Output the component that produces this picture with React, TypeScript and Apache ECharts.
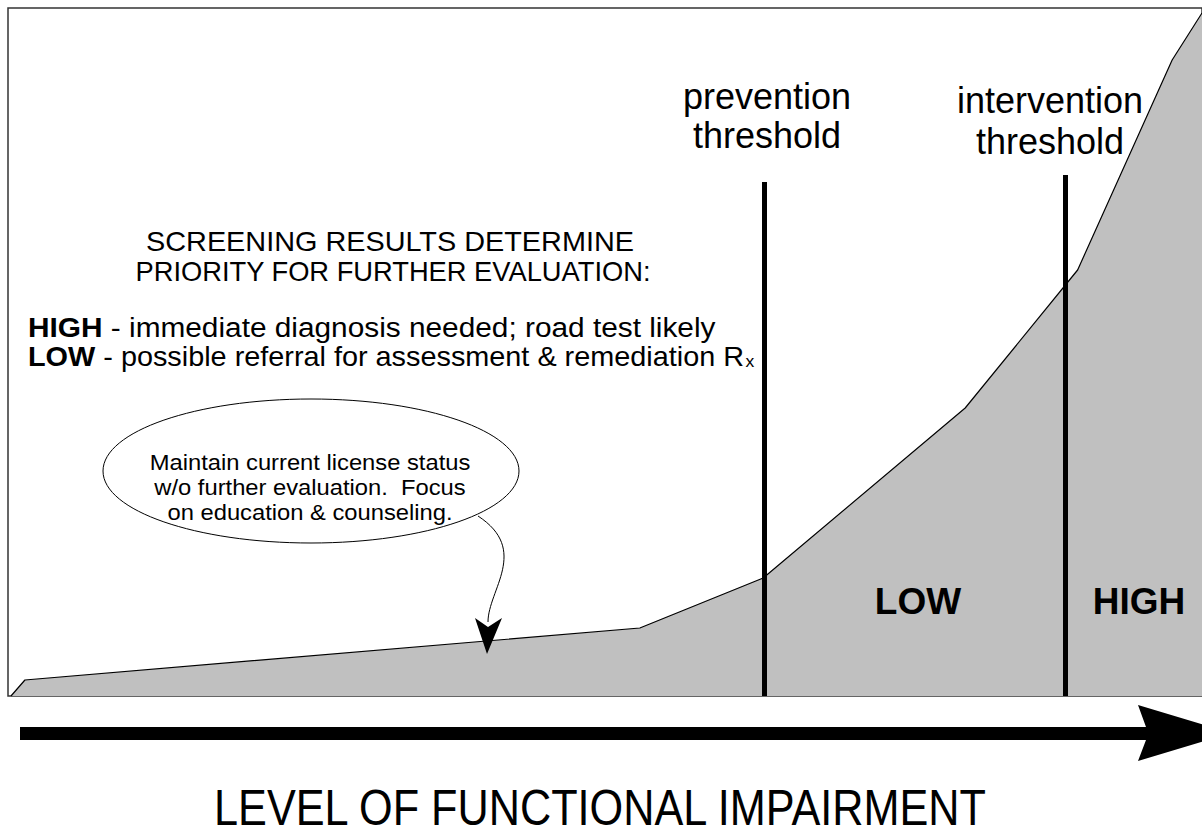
import React, { useEffect, useRef } from "react";
import * as echarts from "echarts";

// ---- data ----
// impairment level (x) and relative risk (y) of the shaded profile
const impairment = [3, 17, 635, 759, 962, 1075, 1170, 1200];
const risk = [0, 16, 68, 118, 288, 426, 636, 683];
// threshold markers
const thresholdLevels = [760, 1063];
const thresholdTops = [514, 521];
const preventionLabel = ["prevention", "threshold"];
const interventionLabel = ["intervention", "threshold"];
const priorityLabels = ["LOW", "HIGH"];
const screeningLines = ["SCREENING RESULTS DETERMINE", "PRIORITY FOR FURTHER EVALUATION:"];
const highText = "immediate diagnosis needed; road test likely";
const lowText = "possible referral for assessment & remediation R";
const bubbleLines = [
  "Maintain current license status",
  "w/o further evaluation.  Focus",
  "on education & counseling.",
];
const axisTitle = "LEVEL OF FUNCTIONAL IMPAIRMENT";

const FONT = '"Liberation Sans", Arial, Helvetica, sans-serif';

export default function App() {
  const ref = useRef<HTMLDivElement>(null);

  useEffect(() => {
    document.body.style.margin = "0";
    if (!ref.current) return;
    const chart = echarts.init(ref.current, undefined, { renderer: "svg" });

    const txt = (
      text: string,
      x: number,
      y: number,
      size: number,
      opts: any = {}
    ) => ({
      type: "text",
      x,
      y,
      z: 100,
      scaleX: opts.scaleX ?? 1,
      style: {
        text,
        fill: "#000",
        fontSize: size,
        fontFamily: FONT,
        fontWeight: opts.bold ? "bold" : "normal",
        align: opts.align ?? "center",
        verticalAlign: "middle",
      },
    });

    const rich = {
      b: { fontSize: 28, fontFamily: FONT, fontWeight: "bold", fill: "#000" },
      r: { fontSize: 28, fontFamily: FONT, fontWeight: "normal", fill: "#000" },
      sub: {
        fontSize: 17,
        fontFamily: FONT,
        fill: "#000",
        verticalAlign: "bottom",
        padding: [0, 0, 0, 1],
      },
    };

    const richLine = (text: string, y: number, scaleX: number) => ({
      type: "text",
      x: 28,
      y,
      z: 100,
      scaleX,
      style: {
        text,
        rich,
        fontSize: 28,
        fontFamily: FONT,
        fill: "#000",
        align: "left",
        verticalAlign: "middle",
      },
    });

    const graphic: any[] = [
      // big axis arrow
      {
        type: "polygon",
        z: 100,
        shape: {
          points: [
            [20, 727],
            [1146, 727],
            [1138, 705],
            [1231, 733],
            [1138, 761],
            [1146, 740],
            [20, 740],
          ],
        },
        style: { fill: "#000" },
      },
      txt(axisTitle, 600, 808, 50, { scaleX: 0.865 }),
      // threshold labels
      txt(preventionLabel[0], 767, 96, 36),
      txt(preventionLabel[1], 767, 135, 36),
      txt(interventionLabel[0], 1050, 100, 36),
      txt(interventionLabel[1], 1050, 141, 36),
      // priority labels inside shaded area
      txt(priorityLabels[0], 918, 601, 37, { bold: true }),
      txt(priorityLabels[1], 1139, 601, 37, { bold: true }),
      // screening text
      txt(screeningLines[0], 390, 241, 28, { scaleX: 1.03 }),
      txt(screeningLines[1], 393, 271, 28, { scaleX: 0.975 }),
      richLine(`{b|HIGH}{r| - ${highText}}`, 327, 1.065),
      richLine(`{b|LOW}{r| - ${lowText}}{sub|x}`, 356, 1.03),
      // bubble
      {
        type: "ellipse",
        z: 100,
        shape: { cx: 311, cy: 471, rx: 208, ry: 72 },
        style: { fill: "#fff", stroke: "#000", lineWidth: 1 },
      },
      txt(bubbleLines[0], 310, 462, 22, { scaleX: 1.08 }),
      txt(bubbleLines[1], 310, 487, 22, { scaleX: 1.08 }),
      txt(bubbleLines[2], 310, 512, 22, { scaleX: 1.08 }),
      {
        type: "bezierCurve",
        z: 100,
        shape: {
          x1: 478,
          y1: 516,
          cpx1: 530,
          cpy1: 550,
          cpx2: 488,
          cpy2: 590,
          x2: 488,
          y2: 622,
        },
        style: { stroke: "#000", lineWidth: 1, fill: null },
      },
      {
        type: "polygon",
        z: 100,
        shape: {
          points: [
            [475, 618],
            [488, 627],
            [502, 618],
            [487, 654],
          ],
        },
        style: { fill: "#000" },
      },
    ];

    chart.setOption({
      animation: false,
      backgroundColor: "#fff",
      grid: {
        left: 8,
        top: 8,
        width: 1200,
        height: 688,
        show: true,
        borderColor: "#333",
        borderWidth: 1.5,
        backgroundColor: "transparent",
      },
      xAxis: {
        type: "value",
        min: 0,
        max: 1200,
        axisLine: { show: false },
        axisTick: { show: false },
        axisLabel: { show: false },
        splitLine: { show: false },
      },
      yAxis: {
        type: "value",
        min: 0,
        max: 688,
        axisLine: { show: false },
        axisTick: { show: false },
        axisLabel: { show: false },
        splitLine: { show: false },
      },
      series: [
        {
          type: "line",
          data: impairment.map((x, i) => [x, risk[i]]),
          symbol: "none",
          silent: true,
          lineStyle: { color: "#000", width: 1.2 },
          areaStyle: { color: "#c0c0c0", opacity: 1 },
          markLine: {
            silent: true,
            symbol: ["none", "none"],
            label: { show: false },
            lineStyle: { color: "#000", width: 5, type: "solid" },
            data: thresholdLevels.map((lv, i) => [
              { coord: [lv, 0] },
              { coord: [lv, thresholdTops[i]] },
            ]),
          },
        },
      ],
      graphic,
    });

    return () => chart.dispose();
  }, []);

  return <div ref={ref} style={{ width: 1202, height: 840 }} />;
}
